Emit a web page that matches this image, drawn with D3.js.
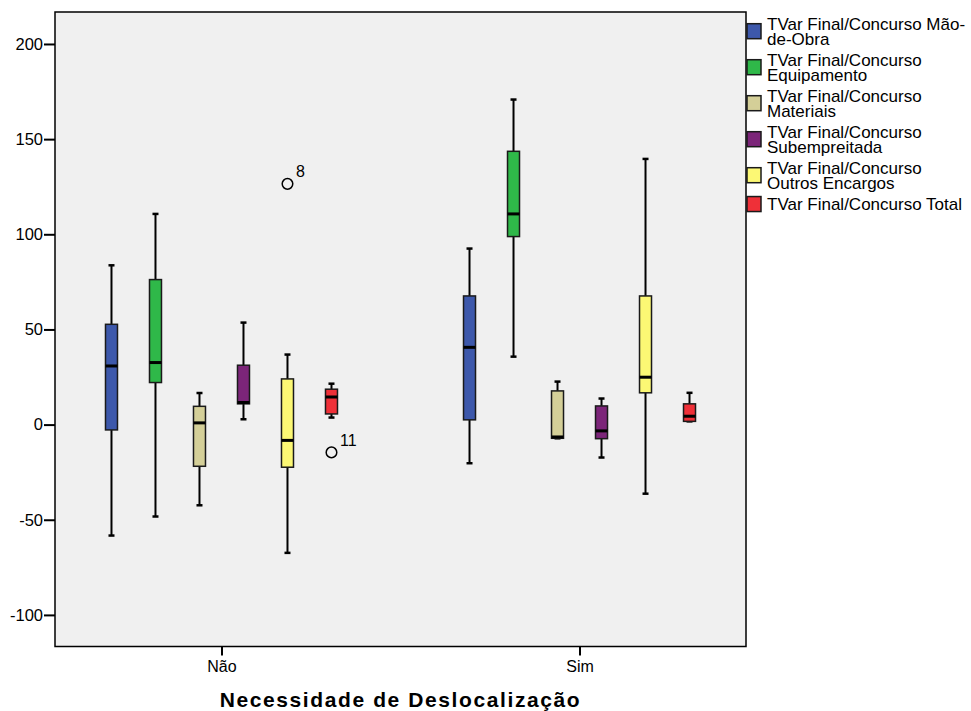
<!DOCTYPE html>
<html>
<head>
<meta charset="utf-8">
<script src="https://cdn.jsdelivr.net/npm/d3@7"></script>
<style>
  html, body { margin: 0; padding: 0; background: #ffffff; }
  svg { display: block; font-family: Arial, "Liberation Sans", sans-serif; }
</style>
</head>
<body>
<svg id="chart" width="971" height="711"></svg>
<script>
// Groups on the x axis
const categories = ["Não", "Sim"];

// One box per variable inside each group
const seriesNames = [
  "TVar Final/Concurso Mão-de-Obra",
  "TVar Final/Concurso Equipamento",
  "TVar Final/Concurso Materiais",
  "TVar Final/Concurso Subempreitada",
  "TVar Final/Concurso Outros Encargos",
  "TVar Final/Concurso Total"
];
const legendLines = [
  ["TVar Final/Concurso Mão-", "de-Obra"],
  ["TVar Final/Concurso", "Equipamento"],
  ["TVar Final/Concurso", "Materiais"],
  ["TVar Final/Concurso", "Subempreitada"],
  ["TVar Final/Concurso", "Outros Encargos"],
  ["TVar Final/Concurso Total"]
];
const seriesColors = ["#3d58ab", "#2fb849", "#d4cf98", "#7c2579", "#fcf874", "#ef3038"];

// Box statistics per group: [lower whisker, Q1, median, Q3, upper whisker]
const maoDeObra     = [[-58.3, -2.8, 30.8, 52.7, 83.7], [-20.3, 2.5, 40.6, 67.6, 92.5]];
const equipamento   = [[-48.3, 22.1, 32.6, 76.2, 110.7], [35.7, 98.8, 110.7, 143.6, 170.8]];
const materiais     = [[-42.4, -21.9, 0.9, 9.6, 16.6], [-7.2, -7.2, -6.5, 17.7, 22.6]];
const subempreitada = [[2.8, 10.9, 11.6, 31.2, 53.6], [-17.3, -7.4, -3.3, 9.8, 13.7]];
const outrosEnc     = [[-67.4, -22.4, -8.3, 24.0, 36.8], [-36.3, 16.7, 24.9, 67.6, 139.6]];
const total         = [[3.7, 5.6, 14.5, 18.6, 21.5], [1.7, 1.7, 4.4, 10.9, 16.7]];
const seriesStats = [maoDeObra, equipamento, materiais, subempreitada, outrosEnc, total];

// Outlying cases with their case numbers
const outlierGroup  = ["Não", "Não"];
const outlierSeries = [4, 5];
const outlierValue  = [126.5, -14.6];
const outlierLabel  = ["8", "11"];

const yTicks = [-100, -50, 0, 50, 100, 150, 200];
const xTitle = "Necessidade de Deslocalização";

// Layout
const plot = { left: 55, right: 746, top: 12, bottom: 646.5 };
const svg = d3.select("#chart");

const x = d3.scalePoint()
  .domain(categories)
  .range([plot.left, plot.right])
  .padding(0.465);

const inner = d3.scalePoint()
  .domain(d3.range(seriesNames.length))
  .range([-110, 110]);

const y = d3.scaleLinear()
  .domain([-116.6, 216.8])
  .range([plot.bottom, plot.top]);

// Plot background
svg.append("rect")
  .attr("x", plot.left).attr("y", plot.top)
  .attr("width", plot.right - plot.left)
  .attr("height", plot.bottom - plot.top)
  .attr("fill", "#f0f0f0");

// Boxes
const boxW = 12, capW = 6;
const boxes = [];
seriesStats.forEach((stats, si) => {
  stats.forEach((s, gi) => {
    boxes.push({ si, cx: x(categories[gi]) + inner(si), s });
  });
});

const g = svg.append("g");
const bx = g.selectAll("g.box").data(boxes).join("g").attr("class", "box");

// whiskers
bx.append("line")
  .attr("x1", d => d.cx).attr("x2", d => d.cx)
  .attr("y1", d => y(d.s[0])).attr("y2", d => y(d.s[1]))
  .attr("stroke", "#000").attr("stroke-width", 2);
bx.append("line")
  .attr("x1", d => d.cx).attr("x2", d => d.cx)
  .attr("y1", d => y(d.s[3])).attr("y2", d => y(d.s[4]))
  .attr("stroke", "#000").attr("stroke-width", 2);
// caps
bx.selectAll("line.cap").data(d => [d.s[0], d.s[4]].map(v => ({ cx: d.cx, v })))
  .join("line").attr("class", "cap")
  .attr("x1", d => d.cx - capW / 2).attr("x2", d => d.cx + capW / 2)
  .attr("y1", d => y(d.v)).attr("y2", d => y(d.v))
  .attr("stroke", "#000").attr("stroke-width", 2.5);
// box
bx.append("rect")
  .attr("x", d => d.cx - boxW / 2)
  .attr("y", d => y(d.s[3]))
  .attr("width", boxW)
  .attr("height", d => Math.max(0.5, y(d.s[1]) - y(d.s[3])))
  .attr("fill", d => seriesColors[d.si])
  .attr("stroke", "#1a1a1a").attr("stroke-width", 1.5);
// median
bx.append("line")
  .attr("x1", d => d.cx - boxW / 2).attr("x2", d => d.cx + boxW / 2)
  .attr("y1", d => y(d.s[2])).attr("y2", d => y(d.s[2]))
  .attr("stroke", "#000").attr("stroke-width", 3);

// Outliers
const outliers = outlierValue.map((v, i) => ({
  cx: x(outlierGroup[i]) + inner(outlierSeries[i]), v, label: outlierLabel[i]
}));
g.selectAll("circle.out").data(outliers).join("circle").attr("class", "out")
  .attr("cx", d => d.cx).attr("cy", d => y(d.v)).attr("r", 5.3)
  .attr("fill", "none").attr("stroke", "#000").attr("stroke-width", 1.5);
g.selectAll("text.out").data(outliers).join("text").attr("class", "out")
  .attr("x", d => d.cx + 8.5).attr("y", d => y(d.v) - 6.5)
  .attr("font-size", 16).attr("fill", "#000")
  .text(d => d.label);

// Frame
svg.append("rect")
  .attr("x", plot.left).attr("y", plot.top)
  .attr("width", plot.right - plot.left)
  .attr("height", plot.bottom - plot.top)
  .attr("fill", "none").attr("stroke", "#000").attr("stroke-width", 1.5);

// Y axis
const yAxis = svg.append("g")
  .attr("transform", `translate(${plot.left},0)`)
  .call(d3.axisLeft(y).tickValues(yTicks).tickSize(11).tickPadding(1).tickFormat(d => String(d)));
yAxis.select(".domain").remove();
yAxis.selectAll(".tick line").attr("stroke", "#000").attr("stroke-width", 2);
yAxis.selectAll(".tick text").attr("font-size", 16.5).attr("fill", "#000")
  .attr("font-family", "Arial, 'Liberation Sans', sans-serif");

// X axis
const xAxis = svg.append("g")
  .attr("transform", `translate(0,${plot.bottom})`)
  .call(d3.axisBottom(x).tickSize(9).tickPadding(5));
xAxis.select(".domain").remove();
xAxis.selectAll(".tick line").attr("stroke", "#000").attr("stroke-width", 2);
xAxis.selectAll(".tick text").attr("font-size", 16).attr("fill", "#000")
  .attr("font-family", "Arial, 'Liberation Sans', sans-serif");

// Axis title
svg.append("text")
  .attr("x", (plot.left + plot.right) / 2).attr("y", 707)
  .attr("text-anchor", "middle")
  .attr("font-size", 21).attr("font-weight", "bold")
  .attr("letter-spacing", 1.6)
  .attr("fill", "#000")
  .text(xTitle);

// Legend
const lineH = 14.3, gap = 7.4;
let cy = 31.2;
const legend = svg.append("g");
legendLines.forEach((lines, i) => {
  if (i > 0) {
    const prevH = legendLines[i - 1].length * lineH + gap;
    const curH = lines.length * lineH + gap;
    cy += prevH / 2 + curH / 2;
  }
  legend.append("rect")
    .attr("x", 747).attr("y", cy - 7.5)
    .attr("width", 14).attr("height", 15)
    .attr("fill", seriesColors[i])
    .attr("stroke", "#1a1a1a").attr("stroke-width", 1.5);
  const t = legend.append("text")
    .attr("font-size", 17).attr("fill", "#000");
  lines.forEach((ln, j) => {
    const mid = cy + (j - (lines.length - 1) / 2) * lineH;
    t.append("tspan").attr("x", 767).attr("y", mid + 6.2).text(ln);
  });
});
</script>
</body>
</html>
